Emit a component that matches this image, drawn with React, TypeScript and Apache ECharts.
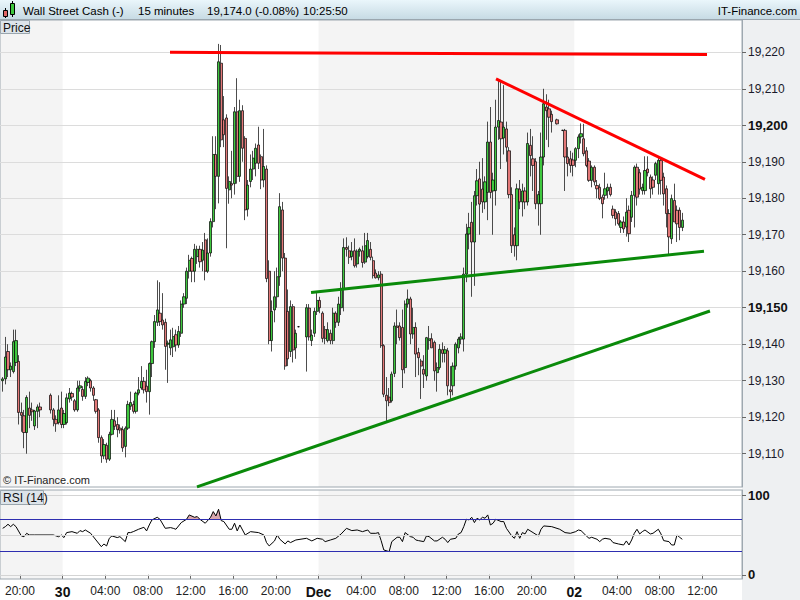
import React, { useEffect, useRef } from "react";
import * as echarts from "echarts";

// ---- time axis: hours since 29 Nov 00:00 ----
const X_MIN = 18.124;
const X_MAX = 87.725;
const FIRST_CANDLE_HOUR = 18.375; // 18:15 candle (slot 0)
const SLOT_HOURS = 0.25; // 15 minutes
const xTickHours = [20, 24, 28, 32, 36, 40, 44, 48, 52, 56, 60, 64, 68, 72, 76, 80, 84];
const dayTickHours = [24, 48, 72];
const dayTickLabels = ["30", "Dec", "02"];

// ---- price axis ----
const Y_MIN = 19100.87;
const Y_MAX = 19228.85;
const priceTicks = [19110, 19120, 19130, 19140, 19150, 19160, 19170, 19180, 19190, 19200, 19210, 19220];
const boldPriceTicks = [19150, 19200];
const lastPrice = 19174.0;

// ---- candles, one per 15-minute slot: [open, high, low, close]; null = no trading ----
const candles: ([number, number, number, number] | null)[] = [
  [19130, 19131, 19127, 19130.5], [19130.5, 19142, 19129, 19136.5], [19138, 19140, 19131, 19133], [19133, 19135, 19131, 19134],
  [19132.5, 19144, 19132, 19140.7], [19135, 19144, 19134, 19141], [19135.3, 19137, 19118, 19121.3], [19121.3, 19124, 19116, 19120.5],
  [19120.4, 19122, 19111.5, 19115.8], [19115.8, 19126, 19110, 19125.4], [19122.5, 19127, 19117, 19120.5], [19122, 19124, 19119, 19121.5],
  [19117.6, 19122, 19116.5, 19121.7], [19121.6, 19123.5, 19117, 19122.8], [19122.8, 19124, 19120, 19122],
  null, null, null,
  [19126, 19126.5, 19121, 19122], [19122, 19122.5, 19117.5, 19119.4], [19119.4, 19120.5, 19116, 19118.2], [19118.5, 19126, 19118, 19122],
  [19122.5, 19127, 19117, 19118], [19118, 19122, 19117, 19121], [19118.5, 19126.5, 19118, 19125.3], [19125, 19128, 19124, 19126.6],
  [19126.5, 19127, 19124.5, 19125.5], [19124.5, 19125, 19121.5, 19122], [19122, 19130, 19121.5, 19128], [19128, 19130, 19127, 19128.6],
  [19127.6, 19128.5, 19124.5, 19125.7], [19125.7, 19131, 19125, 19129.8], [19129.5, 19131.2, 19128.5, 19130.7], [19130, 19130.5, 19127, 19128],
  [19128, 19128.5, 19124.5, 19126], [19124.8, 19125, 19121, 19121.6], [19122, 19122.5, 19113, 19114.4], [19114.4, 19115, 19107.5, 19109.4],
  [19109.4, 19114, 19108.5, 19112.5], [19112.3, 19113, 19107.5, 19108.5], [19108.5, 19116, 19108, 19115.3], [19115.3, 19122, 19115, 19119.4],
  [19119, 19122, 19116.5, 19117.5], [19118, 19120, 19114.5, 19116.6], [19117, 19118, 19115.5, 19116.5], [19116.6, 19117.5, 19110.5, 19111.6],
  [19112, 19117.5, 19109, 19117], [19117, 19124.5, 19116.5, 19123.5], [19123, 19127, 19122, 19124], [19123.5, 19124.5, 19121, 19121.6],
  [19121.6, 19127, 19121, 19126.6], [19126.6, 19131, 19126, 19127.5], [19128, 19134, 19127.5, 19129.8], [19129.8, 19131, 19126.5, 19127.5],
  [19128.5, 19133, 19124, 19127], [19127, 19135, 19120.7, 19134.7], [19134.7, 19141, 19131, 19140.7], [19140.7, 19148, 19139, 19146.2],
  [19146, 19157.5, 19145, 19149.4], [19148.5, 19157, 19145, 19146.2], [19146.6, 19154, 19144, 19145.3], [19146, 19147, 19133, 19139.4],
  [19140, 19141, 19129.4, 19140.3], [19139, 19144, 19137, 19141.2], [19139.3, 19144.5, 19136.5, 19142.1], [19142.6, 19144, 19138, 19139.8],
  [19139.8, 19145, 19139, 19143.5], [19143, 19152, 19142, 19151], [19151, 19154, 19150, 19153], [19152.6, 19161, 19151, 19160],
  [19160, 19164.5, 19158, 19163], [19163.5, 19164, 19157, 19160], [19160, 19167.5, 19157, 19166], [19164, 19167, 19162, 19166],
  [19166, 19167, 19161, 19162.6], [19163, 19168, 19160, 19165.8], [19168.6, 19170.5, 19157.5, 19160], [19160, 19169, 19159.5, 19165],
  [19165, 19174.5, 19164, 19173.6], [19173.6, 19197, 19172, 19192], [19192, 19197, 19177, 19186], [19186, 19222.3, 19178.6, 19217.4],
  [19217, 19222, 19194, 19196], [19201.5, 19208, 19194, 19197.4], [19202, 19203, 19166.3, 19182.7], [19182.3, 19186, 19178.5, 19184.6],
  [19184, 19193, 19180, 19183.6], [19184, 19205, 19181, 19203.7], [19203.7, 19212.9, 19184, 19186], [19186, 19207, 19184.5, 19204],
  [19204, 19205.5, 19190, 19193.7], [19196.4, 19197, 19174, 19176.8], [19177, 19185, 19175, 19183.6], [19184.6, 19192, 19183, 19188],
  [19188, 19193, 19185, 19191], [19189.6, 19195, 19186, 19193.7], [19194.6, 19199.6, 19188, 19189.6], [19191.4, 19192, 19182.5, 19185],
  [19185, 19199, 19183, 19188.7], [19188, 19189, 19157, 19158], [19160, 19163, 19140, 19141], [19141, 19152, 19138, 19149],
  [19149.4, 19160, 19146, 19153], [19153, 19161, 19150, 19158.5], [19158.5, 19181.4, 19156, 19177.7], [19176.8, 19179, 19160, 19163.6],
  [19163.6, 19165, 19133, 19134], [19149, 19155, 19134, 19136], [19138, 19152, 19136.5, 19150.3], [19150.3, 19151, 19135, 19138.4],
  [19139, 19144, 19136, 19143], [19144.8, 19145, 19144.6, 19144.8],
  null, null,
  [19142, 19151, 19132.5, 19150], [19149.9, 19151, 19141, 19142], [19141, 19144, 19139.5, 19142.5], [19143, 19150, 19142, 19149],
  [19149, 19154, 19148, 19152], [19152, 19153, 19148.5, 19150], [19148.5, 19149, 19140.5, 19141.6], [19144, 19145, 19140, 19141.6],
  [19141, 19146, 19140.5, 19144], [19143, 19144, 19140, 19141], [19141, 19150, 19140, 19148.5], [19148.5, 19149, 19144.5, 19146],
  [19146, 19153, 19145, 19151], [19150, 19157, 19148, 19155], [19155, 19169, 19149, 19166.5], [19166.5, 19169.3, 19164, 19166],
  [19165.6, 19167, 19162, 19163.8], [19164, 19168, 19163, 19165.5], [19165.6, 19169, 19161, 19161.5], [19162, 19166, 19161, 19165.5],
  [19165.5, 19166.5, 19164, 19166], [19165.6, 19167, 19161, 19162.4], [19162.5, 19170.5, 19162, 19167], [19164, 19170.5, 19163.5, 19168.4],
  [19166, 19168, 19163, 19163.8], [19162.9, 19164, 19158, 19158.8], [19159.5, 19160.5, 19158, 19158.2], [19158.2, 19160, 19157.5, 19159],
  [19159.2, 19160, 19139, 19139.6], [19139.6, 19140, 19125.5, 19126.3], [19126, 19131, 19119, 19124.5], [19125.5, 19128, 19123, 19124],
  [19124.5, 19132.5, 19124, 19131.8], [19132, 19146, 19131, 19145], [19145, 19149.5, 19140, 19144.6], [19145, 19146, 19141, 19141.8],
  [19144.6, 19149.5, 19128, 19133], [19133.6, 19152, 19132, 19151], [19151, 19155, 19150, 19152.4], [19152.4, 19153, 19140, 19142.8],
  [19142.8, 19150, 19141.5, 19144.6], [19144.6, 19146, 19131, 19137.3], [19137.7, 19139, 19131.5, 19136.3], [19135.4, 19136, 19125, 19134],
  [19133.1, 19137, 19128, 19131.8], [19131.3, 19142, 19130, 19141.8], [19141, 19145, 19138.5, 19141.5], [19141.5, 19143, 19139, 19139],
  [19140.5, 19141, 19130, 19132.7], [19132.2, 19135, 19127, 19133.6], [19133.6, 19140, 19133, 19138.6], [19138.5, 19140.5, 19135, 19137.5],
  [19137.5, 19139.5, 19135, 19138.5], [19138.2, 19139, 19126, 19128.6], [19127.5, 19134, 19125, 19127], [19128.6, 19135, 19126, 19134],
  [19134, 19140.5, 19133, 19140], [19139, 19142, 19137.5, 19141.4], [19141.4, 19143, 19140, 19142], [19141.4, 19161, 19138, 19159.2],
  [19159.2, 19173, 19157, 19170.2], [19170.2, 19176, 19166, 19172], [19173.4, 19179, 19153, 19168], [19168, 19182, 19156, 19180.7],
  [19180.7, 19188, 19178, 19184.8], [19185.3, 19190, 19170, 19178.4], [19182.5, 19191, 19176, 19179], [19179, 19186, 19177, 19184.5],
  [19181.6, 19201, 19174, 19195.4], [19195.4, 19205, 19180, 19181.6], [19182, 19187, 19170, 19185], [19182.1, 19207, 19178, 19199.5],
  [19199.5, 19212.7, 19196, 19201.3], [19200.9, 19212, 19188, 19196.3], [19196.5, 19211, 19192, 19199.5], [19199, 19201, 19190, 19194],
  [19193, 19194, 19180, 19181], [19181, 19183, 19165, 19167], [19170, 19172, 19164, 19167], [19167, 19184, 19163, 19182.6],
  [19182.5, 19185, 19177, 19179], [19179, 19184, 19175, 19182], [19182, 19183, 19177, 19179], [19179, 19198, 19178, 19195],
  [19194.5, 19199, 19186, 19191.7], [19190.8, 19197, 19182, 19189], [19190, 19191, 19177, 19178.5], [19178.5, 19182, 19172.5, 19181],
  [19178.5, 19198, 19170, 19191.3], [19191.3, 19210, 19189, 19205.9], [19205, 19208.5, 19196, 19204], [19204.5, 19207, 19194, 19202.2],
  [19203, 19204, 19198, 19201],
  null,
  [19201.5, 19201.8, 19200.2, 19200.4],
  null,
  [19198.6, 19198.8, 19198.4, 19198.6], [19198.6, 19199, 19182, 19191.3], [19191.3, 19194, 19186, 19189.5], [19190.8, 19193, 19187, 19189],
  [19190.5, 19192.5, 19186, 19189], [19190.4, 19194, 19188.5, 19193.6], [19193.6, 19197.5, 19191, 19196.8], [19196.8, 19200.5, 19195, 19197.7],
  [19196.3, 19200.4, 19191.5, 19192.2], [19193, 19194, 19188.5, 19189], [19190.2, 19191, 19184.5, 19184.9], [19184.9, 19189, 19183, 19188.5],
  [19188.5, 19189, 19183.5, 19184.5], [19183.5, 19185, 19180, 19182.6], [19183, 19184, 19179.5, 19179.9], [19180.3, 19181, 19174.5, 19178.5],
  [19180.8, 19187, 19179.6, 19182.6], [19182, 19184, 19180, 19183], [19183, 19184, 19180.5, 19181], [19177, 19178, 19174.5, 19175.3],
  [19176.2, 19177, 19172.5, 19174.4], [19175.8, 19176.5, 19172.5, 19173], [19172, 19174, 19170.5, 19173.5], [19173.5, 19175, 19170.5, 19171.6],
  [19172.1, 19180, 19169.5, 19176.2], [19176.7, 19178, 19168, 19170.3], [19174.8, 19182, 19173.5, 19180.8], [19180.8, 19189, 19172, 19188.5],
  [19188.5, 19189.5, 19178, 19180.3], [19187, 19188, 19181, 19182.5], [19182.1, 19184, 19181, 19183], [19182.1, 19191.5, 19181, 19187.6],
  [19188, 19191.5, 19186, 19187], [19185.8, 19186.5, 19180, 19182.6], [19185, 19186, 19181, 19183], [19186.3, 19190, 19185, 19189.5],
  [19184, 19191.5, 19181, 19190.4], [19190.4, 19191, 19181, 19184.9], [19185.8, 19187, 19178, 19181.2], [19182.6, 19183.5, 19172, 19175.8],
  [19175.8, 19177, 19164.5, 19169.4], [19168.9, 19181, 19167.5, 19179.9], [19179.4, 19184, 19176, 19173.5], [19176.7, 19178, 19168, 19173],
  [19176.7, 19177.5, 19168.5, 19172], [19172, 19176, 19171, 19174],
];

// ---- RSI (14) at candle slots ----
const rsiSlots = [
  0, 1, 2, 3, 4, 5, 7, 8, 9, 10, 12, 19, 21, 22, 23, 24, 26, 28, 29, 30, 31, 33, 35, 37, 38, 39, 40, 41, 43, 44, 46, 47, 48, 49, 51, 53, 54, 55, 56, 58, 59, 61, 63, 64, 65, 67, 69, 70, 72, 73, 74, 76, 78, 79, 80, 81, 82, 83, 85, 86, 87, 88, 89, 91, 93, 96, 98, 99, 100, 102, 103, 104, 106, 107, 108, 110,
  114, 116, 118, 120, 121, 123, 125, 127, 129, 131, 133, 135, 137, 138, 140, 141, 142, 143, 145, 146, 148, 149, 150, 151, 153, 154, 155, 156, 158, 159, 160, 162, 163, 165, 166, 167, 168, 170, 171, 172, 173, 174, 175, 176, 177, 178, 179, 180, 181, 182, 183, 184, 185, 187, 188, 189, 191, 192, 193, 194, 195, 196, 197, 199, 201, 202, 203, 206,
  209, 211, 213, 215, 216, 217, 219, 220, 221, 223, 224, 225, 226, 228, 229, 231, 233, 234, 235, 236, 237, 238, 239, 240, 241, 243, 244, 246, 247, 248, 250, 251, 252, 253, 254, 255,
];
const rsiValues = [
  58.6, 60.7, 63.7, 60.7, 63.7, 60.7, 49, 48, 52.3, 50.2, 50.2, 50.2, 48, 50.2, 46.9, 53.2, 54.4, 52.3, 55.7, 54.4, 56.5, 52.3, 43.9, 35.5, 38.8, 36.4, 46, 49, 46.9, 48.1, 41.8, 53.2, 53.2, 54.4, 57.4, 59.9, 55.3, 62.8, 69.2, 72.5, 70, 58.6, 59.5, 58.6, 57.4, 65.8, 70, 75.5, 72.5, 73.4, 70, 65, 72.5, 79.7, 74.2, 82.6, 68.3, 67.1, 57.4, 57.4, 65, 55.3, 62.8, 50.2, 54.4, 53.2, 50.2, 40.6, 36.4, 42.7, 50.2, 44.8, 38.9, 42.7, 40.6, 43.9,
  46, 42.7, 46, 44.8, 41.8, 43.9, 46, 51.5, 58.6, 55.7, 56.5, 54.4, 56.5, 52.3, 52.3, 53.2, 43.1, 31.3, 29.2, 41.8, 47.3, 47.3, 41.8, 53.2, 48.1, 47.3, 43.9, 43.1, 41.8, 49, 48.1, 42.7, 42.7, 47.3, 44.8, 40.6, 44.8, 46, 51.5, 53.2, 60.7, 70, 69.2, 72.5, 65.8, 71.3, 69.2, 72.5, 71.3, 75.5, 62.8, 65, 70, 67.1, 67.1, 58.6, 49, 46, 54.4, 46, 53.2, 51.5, 57.4, 53.2, 49, 57.4, 61.6, 60.7,
  57.4, 53.2, 52.3, 54.4, 56.5, 55.7, 49, 46, 47.3, 44.8, 41.8, 44.8, 46, 44.8, 40.6, 38.9, 37.6, 42.7, 37.6, 43.9, 52.3, 57.4, 51.5, 54.4, 56.5, 51.5, 52.3, 57.4, 51.5, 43.1, 41.8, 37.6, 37.6, 50.2, 47.3, 44.736,
];
const rsiLast = 44.736;
const rsiOverbought = 70;
const rsiOversold = 30;
// candle slots in which the reference shades the RSI above 70
const rsiShadedSlots = [66, 84];

// ---- hand-drawn trend lines: [hour, price] end points ----
const redResistance = [[34.07, 19220.0], [84.44, 19219.4]];
const redFalling = [[64.65, 19212.7], [84.25, 19185.2]];
const greenUpper = [[47.3, 19154.2], [84.16, 19165.5]];
const greenLower = [[36.6, 19100.9], [84.72, 19149.1]];

const FONT = '"Liberation Sans", Arial, sans-serif';

function fmtPrice(v: number): string {
  const s = Math.round(v).toString();
  return s.slice(0, s.length - 3) + "," + s.slice(s.length - 3);
}

export default function App() {
  const ref = useRef<HTMLDivElement>(null);

  useEffect(() => {
    if (!ref.current) return;
    const chart = echarts.init(ref.current, undefined, { renderer: "svg" });

    const candleData: any[] = [];
    candles.forEach((c, i) => {
      if (!c) return;
      const [o, h, l, cl] = c;
      candleData.push([FIRST_CANDLE_HOUR + i * SLOT_HOURS, o, cl, Math.min(l, o, cl), Math.max(h, o, cl)]);
    });
    const rsiData = rsiSlots.map((s, i) => [FIRST_CANDLE_HOUR + s * SLOT_HOURS, rsiValues[i]]);
    const shadePts = rsiSlots
      .map((s, i) => ({ s, p: rsiData[i] }))
      .filter((d) => d.s >= rsiShadedSlots[0] && d.s <= rsiShadedSlots[1])
      .map((d) => d.p);

    const dayShade = [
      [{ xAxis: X_MIN }, { xAxis: dayTickHours[0] }],
      [{ xAxis: dayTickHours[1] }, { xAxis: dayTickHours[2] }],
    ];
    const shadeStyle = { color: "rgba(0,0,0,0.045)" };

    const trend = (pts: number[][], color: string) => [
      { coord: pts[0], lineStyle: { color, width: 3, type: "solid" } },
      { coord: pts[1] },
    ];

    const renderOverbought = (_params: any, api: any) => {
      const OB = rsiOverbought;
      const polys: number[][][] = [];
      let cur: number[][] | null = null;
      for (let i = 0; i < shadePts.length; i++) {
        const [x, v] = shadePts[i];
        const prev = i > 0 ? shadePts[i - 1] : null;
        if (v > OB) {
          if (!cur) {
            cur = [];
            if (prev) {
              const t = (OB - prev[1]) / (v - prev[1]);
              cur.push(api.coord([prev[0] + t * (x - prev[0]), OB]));
            } else cur.push(api.coord([x, OB]));
          }
          cur.push(api.coord([x, v]));
        } else if (cur && prev) {
          const t = (OB - prev[1]) / (v - prev[1]);
          cur.push(api.coord([prev[0] + t * (x - prev[0]), OB]));
          polys.push(cur);
          cur = null;
        }
      }
      if (cur) polys.push(cur);
      return {
        type: "group",
        children: polys.map((p) => ({ type: "polygon", shape: { points: p }, style: { fill: "#d9a7ad" } })),
      };
    };

    const txt = (x: number, y: number, text: string, size: number, extra: any = {}) => ({
      type: "text", z: 12, silent: true,
      style: { x, y, text, font: size + "px " + FONT, fill: "#111", textVerticalAlign: "middle", verticalAlign: "middle", ...extra },
    });

    const option: any = {
      animation: false,
      backgroundColor: "#ffffff",
      textStyle: { fontFamily: FONT },
      grid: [
        { left: 0, right: 58, top: 20, height: 467, show: true, borderColor: "#9ea8b0", borderWidth: 1, backgroundColor: "transparent" },
        { left: 0, right: 58, top: 490, height: 89, show: true, borderColor: "#9ea8b0", borderWidth: 1, backgroundColor: "transparent" },
      ],
      xAxis: [
        {
          type: "value", gridIndex: 0, min: X_MIN, max: X_MAX,
          axisLine: { show: false }, axisTick: { show: false }, axisLabel: { show: false }, splitLine: { show: false },
        },
        {
          type: "value", gridIndex: 1, min: X_MIN, max: X_MAX,
          axisLine: { show: false },
          axisTick: { show: true, customValues: xTickHours, length: 4, lineStyle: { color: "#666" } },
          axisLabel: {
            customValues: xTickHours, margin: 6, fontFamily: FONT, fontSize: 12, color: "#222",
            formatter: (v: number) => {
              const k = dayTickHours.indexOf(Math.round(v));
              if (k >= 0) return "{b|" + dayTickLabels[k] + "}";
              const hh = Math.round(v) % 24;
              return (hh < 10 ? "0" : "") + hh + ":00";
            },
            rich: { b: { fontFamily: FONT, fontSize: 14, fontWeight: "bold", color: "#111" } },
          },
          splitLine: { show: false },
        },
      ],
      yAxis: [
        {
          type: "value", gridIndex: 0, position: "right", min: Y_MIN, max: Y_MAX, scale: true,
          axisLine: { show: true, lineStyle: { color: "#9ea8b0" } },
          axisTick: { show: true, customValues: priceTicks, length: 4, lineStyle: { color: "#666" } },
          axisLabel: {
            customValues: priceTicks, margin: 6, fontFamily: FONT, fontSize: 12, color: "#1a1a2a",
            formatter: (v: number) => (boldPriceTicks.indexOf(Math.round(v)) >= 0 ? "{b|" + fmtPrice(v) + "}" : fmtPrice(v)),
            rich: { b: { fontFamily: FONT, fontSize: 13, fontWeight: "bold", color: "#111" } },
          },
          splitLine: { show: true, lineStyle: { color: "#dcdcdc", width: 1 } },
        },
        {
          type: "value", gridIndex: 1, position: "right", min: -5.3, max: 106.9,
          axisLine: { show: true, lineStyle: { color: "#9ea8b0" } },
          axisTick: { show: true, customValues: [0, 100], length: 4, lineStyle: { color: "#666" } },
          axisLabel: {
            customValues: [0, 100], margin: 6, fontFamily: FONT, fontSize: 13, fontWeight: "bold", color: "#111",
          },
          splitLine: { show: false },
        },
      ],
      series: [
        {
          name: "Wall Street Cash",
          type: "candlestick",
          xAxisIndex: 0, yAxisIndex: 0,
          data: candleData,
          barWidth: 2.7,
          itemStyle: { color: "#3ec83e", color0: "#e37878", borderColor: "#000", borderColor0: "#000", borderWidth: 0.7 },
          markArea: { silent: true, z: -1, itemStyle: shadeStyle, data: dayShade },
          markLine: {
            silent: true, symbol: ["none", "none"], z: 5,
            label: { show: false },
            data: [
              trend(redResistance, "#ff0000"),
              trend(redFalling, "#ff0000"),
              trend(greenUpper, "#0a8a0a"),
              trend(greenLower, "#0a8a0a"),
              {
                yAxis: lastPrice,
                lineStyle: { opacity: 0 },
                label: {
                  show: true, position: "end", distance: 5, formatter: lastPrice.toLocaleString("en-US", { minimumFractionDigits: 1 }),
                  fontFamily: FONT, fontSize: 12, color: "#000", backgroundColor: "#f9c700",
                  borderColor: "#8a8a8a", borderWidth: 1, padding: [2, 2, 1, 2],
                },
              },
            ],
          },
        },
        {
          name: "RSI overbought", type: "custom", xAxisIndex: 1, yAxisIndex: 1, data: [[X_MIN, rsiOverbought]],
          renderItem: renderOverbought, silent: true, z: 3, clip: true,
        },
        {
          name: "RSI (14)", type: "line", xAxisIndex: 1, yAxisIndex: 1, data: rsiData,
          symbol: "none", lineStyle: { color: "#000", width: 1 }, silent: true, z: 4,
          markArea: { silent: true, z: -1, itemStyle: shadeStyle, data: dayShade },
          markLine: {
            silent: true, symbol: ["none", "none"], label: { show: false },
            data: [
              { yAxis: 100, lineStyle: { color: "#d4d4d4", width: 1, type: "solid" } },
              { yAxis: 50, lineStyle: { color: "#d4d4d4", width: 1, type: "solid" } },
              { yAxis: 0, lineStyle: { color: "#d4d4d4", width: 1, type: "solid" } },
              { yAxis: rsiOverbought, lineStyle: { color: "#2e2eb0", width: 1, type: "solid" } },
              { yAxis: rsiOversold, lineStyle: { color: "#2e2eb0", width: 1, type: "solid" } },
              {
                yAxis: rsiLast, lineStyle: { opacity: 0 },
                label: {
                  show: true, position: "end", distance: 5, formatter: String(rsiLast),
                  fontFamily: FONT, fontSize: 12, color: "#000", backgroundColor: "#ffffff",
                  borderColor: "#8a8a8a", borderWidth: 1, padding: [2, 2, 1, 2],
                },
              },
            ],
          },
        },
      ],
      graphic: [
        // right axis panel background
        { type: "rect", z: -10, silent: true, shape: { x: 742, y: 19, width: 58, height: 581 }, style: { fill: "#eef0f2" } },
        // header bar
        {
          type: "rect", z: 10, silent: true, shape: { x: 0, y: 0, width: 800, height: 19 },
          style: { fill: new echarts.graphic.LinearGradient(0, 0, 0, 1, [{ offset: 0, color: "#eaf6fb" }, { offset: 1, color: "#c7dbe4" }]) },
        },
        { type: "line", z: 10, silent: true, shape: { x1: 0, y1: 19.5, x2: 800, y2: 19.5 }, style: { stroke: "#9aa6ae", lineWidth: 1 } },
        // candle icon
        { type: "line", z: 11, silent: true, shape: { x1: 5.5, y1: 8, x2: 5.5, y2: 18 }, style: { stroke: "#000", lineWidth: 1 } },
        { type: "rect", z: 11, silent: true, shape: { x: 3.5, y: 10.5, width: 4, height: 6 }, style: { fill: "#e06464", stroke: "#000", lineWidth: 1 } },
        { type: "line", z: 11, silent: true, shape: { x1: 12.5, y1: 1, x2: 12.5, y2: 17 }, style: { stroke: "#000", lineWidth: 1 } },
        { type: "rect", z: 11, silent: true, shape: { x: 10.5, y: 3.5, width: 4, height: 11 }, style: { fill: "#3ec83e", stroke: "#000", lineWidth: 1 } },
        txt(23, 11, "Wall Street Cash (-)", 11.5, { fill: "#000" }),
        txt(138, 11, "15 minutes", 11.5, { fill: "#000" }),
        txt(207, 11, "19,174.0 (-0.08%)", 11.5, { fill: "#000" }),
        txt(303, 11, "10:25:50", 11.5, { fill: "#000" }),
        txt(797, 11, "IT-Finance.com", 11.5, { fill: "#000", textAlign: "right", align: "right" }),
        // "Price" tab
        { type: "rect", z: 11, silent: true, shape: { x: 0.5, y: 20.5, width: 29, height: 13 }, style: { fill: "#dde4ea", stroke: "#9aa6ae", lineWidth: 1 } },
        txt(3, 27.5, "Price", 12),
        // "RSI (14)" tab
        { type: "rect", z: 11, silent: true, shape: { x: 0.5, y: 490.5, width: 43, height: 14 }, style: { fill: "#dde4ea", stroke: "#9aa6ae", lineWidth: 1 } },
        txt(3, 498, "RSI (14)", 12),
        // copyright
        txt(3, 480, "© IT-Finance.com", 11, { fill: "#222" }),
      ],
    };

    chart.setOption(option);
    return () => chart.dispose();
  }, []);

  return <div ref={ref} style={{ position: "fixed", left: 0, top: 0, width: 800, height: 600 }} />;
}
